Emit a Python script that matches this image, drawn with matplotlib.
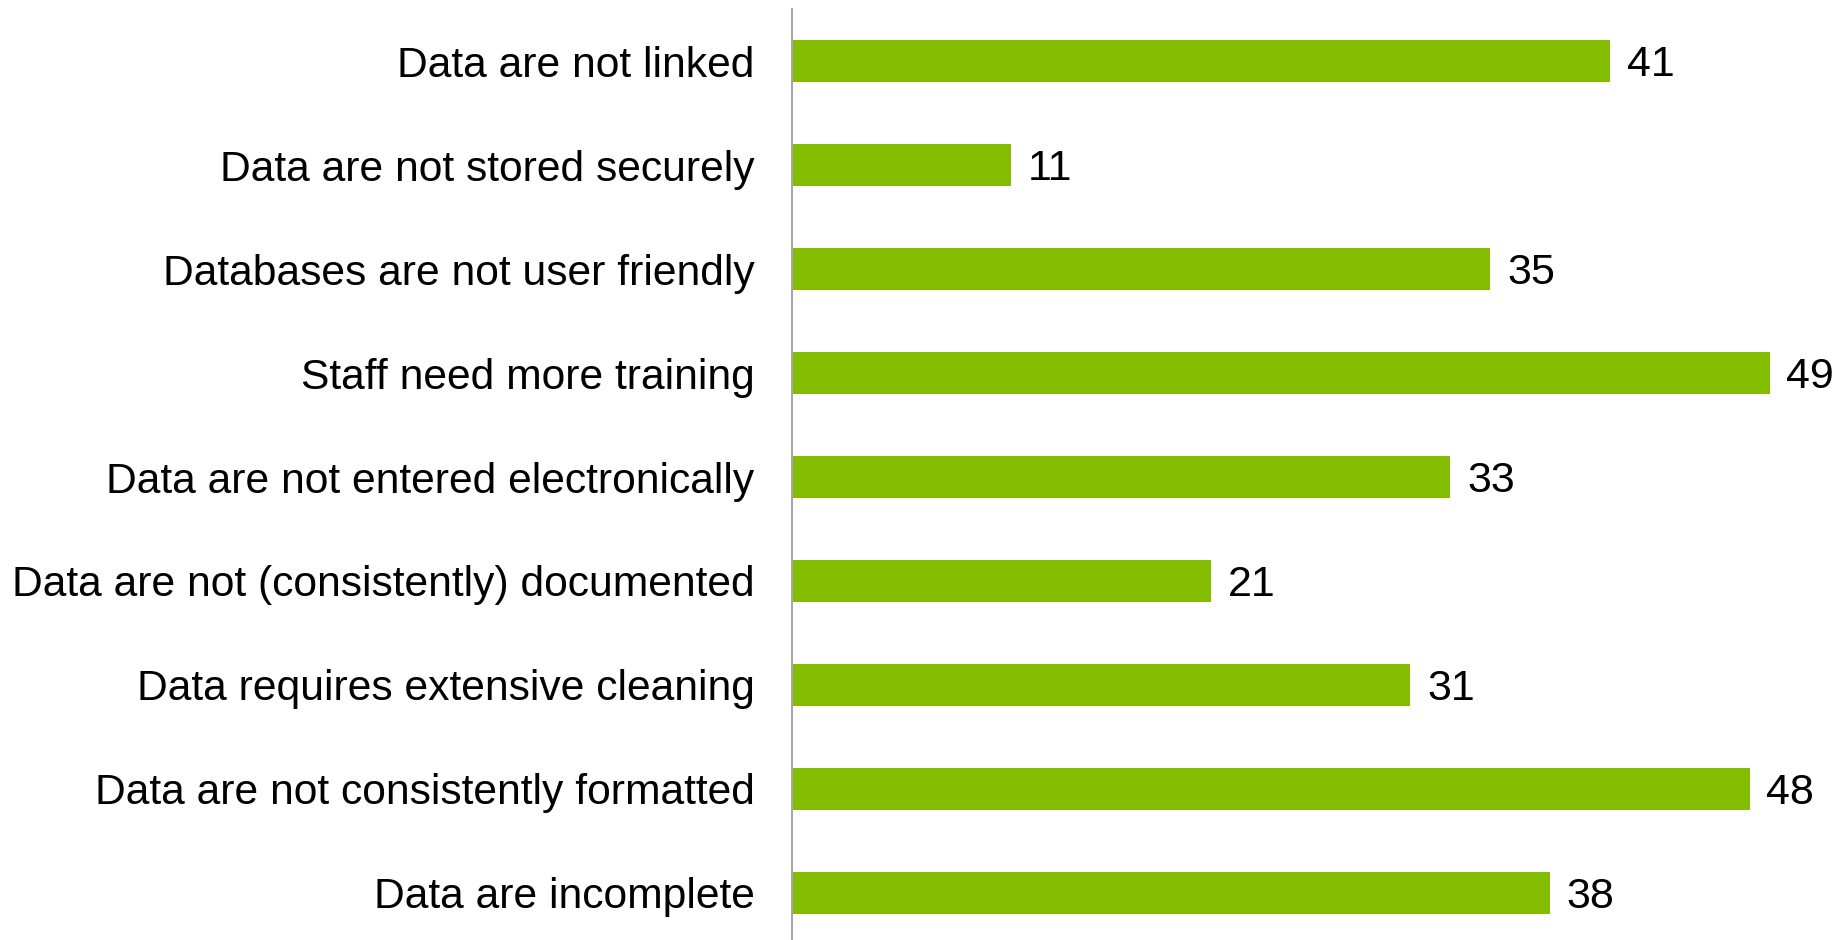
import matplotlib.pyplot as plt

bar_color = '#84bd00'
axis_color = '#a6a6a6'

categories = [
    'Data are not linked',
    'Data are not stored securely',
    'Databases are not user friendly',
    'Staff need more training',
    'Data are not entered electronically',
    'Data are not (consistently) documented',
    'Data requires extensive cleaning',
    'Data are not consistently formatted',
    'Data are incomplete',
]
counts = [41, 11, 35, 49, 33, 21, 31, 48, 38]

plt.rcParams['font.family'] = ['Liberation Sans', 'DejaVu Sans']

fig = plt.figure(figsize=(18.42, 9.40), dpi=100, facecolor='white')
ax = fig.add_axes([0.43, -0.0053, 0.5415, 0.9957])

positions = list(range(len(categories)))
ax.barh(positions, counts, height=0.4, color=bar_color)

# value labels just right of each bar end
for pos, value in zip(positions, counts):
    ax.annotate(str(value), xy=(value, pos), xytext=(12, -3),
                textcoords='offset points', va='center', ha='left',
                fontsize=31, color='black')

ax.set_xlim(0, 50)
ax.set_ylim(len(categories) - 0.5, -0.5)
ax.set_yticks(positions)
ax.set_yticklabels(categories, fontsize=30.7)
ax.tick_params(axis='y', length=0, pad=27)
ax.set_xticks([])

for side in ['top', 'right', 'bottom']:
    ax.spines[side].set_visible(False)
ax.spines['left'].set_color(axis_color)
ax.spines['left'].set_linewidth(1.5)

fig.savefig('out.png', dpi=100, facecolor='white')
